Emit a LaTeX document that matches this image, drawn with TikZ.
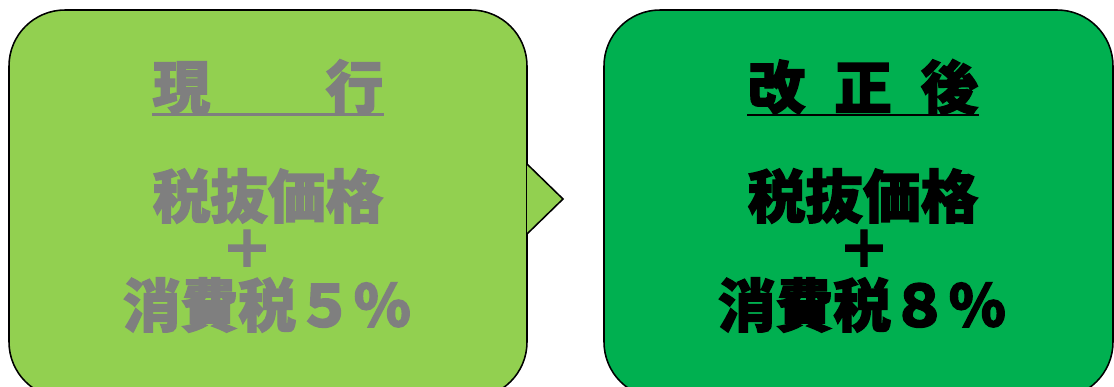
\documentclass[tikz,border=0pt]{standalone}
\usepackage{fontspec}
\newfontfamily\jpfont{Noto Sans CJK JP}[BoldFeatures={FakeBold=2.2}]
\usetikzlibrary{positioning}
\definecolor{oldgreen}{HTML}{92D050}
\definecolor{newgreen}{HTML}{00B050}
\definecolor{oldgray}{HTML}{7F7F7F}

\begin{document}
\begin{tikzpicture}[x=0.025cm,y=-0.025cm,
    box/.style={draw=black,line width=1.1pt,rounded corners=1.4cm},
    big text/.style={font=\jpfont\bfseries\fontsize{41}{41}\selectfont,inner sep=0pt},
    plus text/.style={font=\jpfont\bfseries\fontsize{37}{37}\selectfont,inner sep=0pt}]
  \useasboundingbox (0,0) rectangle (1114,387);
  \begin{scope}
    \clip (0,0) rectangle (1114,387);
    % before: box with pointer
    \path[box,fill=oldgreen] (9,10) rectangle (527,398);
    \filldraw[fill=oldgreen,draw=black,line width=1.1pt,line join=miter] (527,164) -- (563,199) -- (527,234);
    % after
    \path[box,fill=newgreen] (604,10) rectangle (1113,398);
  \end{scope}
  % texts left
  \node[big text,text=oldgray] (oldtitle) at (268,87) {現　　行};
  \draw[oldgray,line width=2pt] (oldtitle.south west) -- (oldtitle.south east);
  \node[big text,text=oldgray] (oldbase) at (268,196) {税抜価格};
  \node[plus text,text=oldgray] (oldplus) at (247,249) {＋};
  \node[big text,text=oldgray] (oldtax) at (267,305) {消費税５％};
  % texts right
  \node[big text] (newtitle) at (863,87) {改\hspace{0.5em}正\hspace{0.5em}後};
  \draw[line width=2pt] (newtitle.south west) -- (newtitle.south east);
  \node[big text] (newbase) at (863,196) {税抜価格};
  \node[plus text] (newplus) at (864,249) {＋};
  \node[big text] (newtax) at (862,305) {消費税８％};
\end{tikzpicture}
\end{document}
